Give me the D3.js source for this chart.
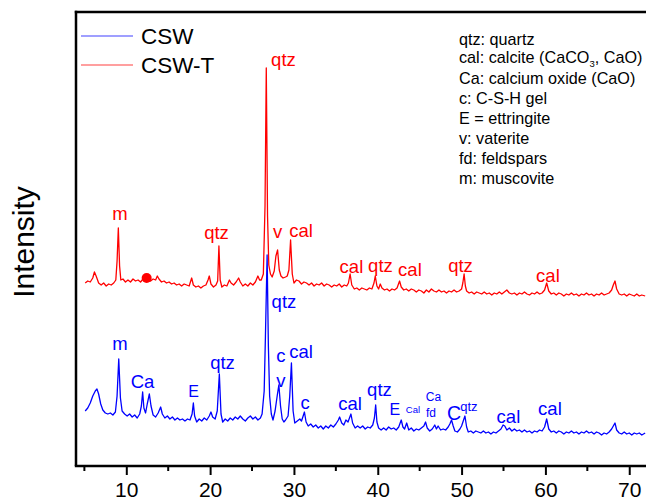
<!DOCTYPE html>
<html>
<head>
<meta charset="utf-8">
<script src="https://cdn.jsdelivr.net/npm/d3@7"></script>
<style>
  html, body { margin: 0; padding: 0; background: #fff; }
  svg { display: block; font-family: "Liberation Sans", Arial, sans-serif; }
</style>
</head>
<body>
<svg id="chart" width="646" height="500"></svg>
<script>
// XRD patterns, 2θ (degrees) vs intensity (a.u.), two samples stacked.
const csw = [
  [5.1,55],[5.4,58],[5.7,63],[6.0,70],[6.3,75],[6.5,77],[6.7,72],[6.95,62],[7.2,56],[7.5,53],
  [7.8,52],[8.1,53],[8.4,51],[8.7,54],[8.9,70],[9.1,107],[9.3,68],[9.5,55],[9.8,52],[10.1,50],
  [10.4,52],[10.7,49],[11.0,51],[11.3,48],[11.6,52],[11.8,60],[11.95,74],[12.1,58],[12.3,53],[12.5,62],
  [12.75,72],[12.95,60],[13.2,51],[13.5,49],[13.8,53],[14.1,59],[14.3,52],[14.6,48],[14.9,50],[15.2,47],
  [15.5,49],[15.8,46],[16.1,48],[16.4,46],[16.7,47],[17.0,45],[17.3,47],[17.6,46],[17.85,52],[18.0,63],
  [18.15,50],[18.4,44],[18.7,47],[19.0,45],[19.3,48],[19.6,46],[19.9,50],[20.1,54],[20.3,49],[20.6,47],
  [20.85,55],[21.1,92],[21.3,52],[21.5,44],[21.8,47],[22.1,45],[22.4,48],[22.7,46],[23.0,49],[23.3,47],
  [23.6,50],[23.9,47],[24.2,45],[24.5,48],[24.8,50],[25.1,47],[25.4,49],[25.7,46],[26.0,48],[26.2,52],
  [26.45,75],[26.6,130],[26.8,211],[26.95,120],[27.1,70],[27.3,52],[27.5,46],[27.75,55],[28.0,70],[28.2,81],
  [28.4,60],[28.6,47],[28.8,44],[29.0,46],[29.3,50],[29.5,70],[29.7,103],[29.9,55],[30.1,43],[30.4,45],
  [30.7,47],[30.9,45],[31.1,50],[31.25,54],[31.45,44],[31.7,40],[32.0,42],[32.3,39],[32.6,41],[32.9,38],
  [33.2,40],[33.5,37],[33.8,40],[34.1,38],[34.4,41],[34.7,39],[35.0,42],[35.3,46],[35.45,49],[35.7,43],
  [35.95,41],[36.2,46],[36.45,44],[36.8,52],[37.0,43],[37.3,38],[37.6,40],[37.9,38],[38.2,40],[38.5,37],
  [38.8,39],[39.1,38],[39.4,41],[39.6,48],[39.75,61],[39.9,44],[40.1,38],[40.4,36],[40.7,38],[41.0,36],
  [41.3,39],[41.6,37],[41.9,38],[42.2,36],[42.5,39],[42.8,46],[43.0,39],[43.2,37],[43.45,43],[43.7,36],
  [44.0,38],[44.3,35],[44.6,37],[44.9,36],[45.2,38],[45.5,40],[45.7,44],[45.9,38],[46.2,35],[46.5,37],
  [46.8,41],[47.0,37],[47.2,40],[47.5,36],[47.8,37],[48.1,36],[48.4,39],[48.6,42],[48.8,46],[49.0,40],
  [49.2,35],[49.5,34],[49.8,37],[50.0,40],[50.2,45],[50.4,50],[50.6,39],[50.8,34],[51.1,35],[51.4,33],
  [51.7,35],[52.0,34],[52.3,33],[52.6,35],[52.9,33],[53.2,34],[53.5,32],[53.8,34],[54.1,33],[54.4,35],
  [54.7,37],[54.95,41],[55.15,40],[55.4,36],[55.7,38],[56.0,35],[56.3,37],[56.6,35],[56.9,36],[57.2,34],
  [57.5,36],[57.8,34],[58.1,35],[58.4,33],[58.7,35],[59.0,34],[59.3,36],[59.6,35],[59.9,39],[60.15,47],
  [60.4,37],[60.7,34],[61.0,35],[61.3,33],[61.6,35],[61.9,34],[62.2,32],[62.5,34],[62.8,33],[63.1,35],
  [63.4,33],[63.7,34],[64.0,32],[64.3,34],[64.6,33],[64.9,35],[65.2,33],[65.5,34],[65.8,32],[66.1,34],
  [66.4,33],[66.7,31],[67.0,33],[67.3,32],[67.6,34],[67.9,37],[68.1,40],[68.3,43],[68.5,36],[68.8,33],
  [69.1,32],[69.4,34],[69.7,32],[70.0,33],[70.3,31],[70.6,33],[70.9,32],[71.2,33],[71.5,31],[71.9,33]
];

const cswT = [
  [5.1,183],[5.4,185],[5.7,184],[6.0,188],[6.2,194],[6.4,190],[6.7,183],[7.0,181],[7.3,183],[7.6,180],
  [7.9,182],[8.2,181],[8.5,183],[8.75,186],[8.9,205],[9.05,238],[9.2,200],[9.35,186],[9.6,187],[9.9,184],
  [10.2,186],[10.5,184],[10.8,187],[11.1,185],[11.4,186],[11.7,184],[12.0,187],[12.3,186],[12.6,188],[12.9,185],
  [13.2,187],[13.5,186],[13.7,190],[13.9,187],[14.2,184],[14.5,185],[14.8,183],[15.1,184],[15.4,182],[15.7,183],
  [16.0,181],[16.3,182],[16.6,180],[16.9,182],[17.2,181],[17.5,180],[17.8,188],[18.0,181],[18.3,179],[18.6,180],
  [18.9,178],[19.2,180],[19.5,181],[19.75,186],[19.9,190],[20.1,182],[20.4,179],[20.7,181],[20.9,185],[21.05,220],
  [21.2,186],[21.4,179],[21.7,181],[22.0,180],[22.3,186],[22.5,183],[22.8,181],[23.1,184],[23.4,188],[23.6,184],
  [23.9,180],[24.2,182],[24.5,180],[24.8,183],[25.1,181],[25.4,184],[25.7,190],[25.9,186],[26.1,186],[26.35,192],
  [26.55,260],[26.7,398],[26.85,250],[27.0,201],[27.2,192],[27.4,189],[27.65,195],[27.85,210],[28.05,216],[28.25,196],
  [28.45,190],[28.7,188],[29.0,189],[29.2,190],[29.4,196],[29.6,226],[29.8,192],[30.0,183],[30.3,186],[30.6,185],
  [30.9,182],[31.2,184],[31.5,183],[31.8,181],[32.1,183],[32.4,180],[32.7,182],[33.0,181],[33.3,183],[33.6,180],
  [33.9,182],[34.2,181],[34.5,179],[34.8,181],[35.1,180],[35.4,182],[35.7,179],[36.0,181],[36.3,180],[36.5,183],
  [36.7,192],[36.9,181],[37.2,177],[37.5,178],[37.8,176],[38.1,178],[38.4,177],[38.7,176],[39.0,178],[39.3,177],
  [39.55,183],[39.7,190],[39.9,180],[40.1,177],[40.3,182],[40.5,178],[40.8,176],[41.1,177],[41.4,175],[41.7,177],
  [42.0,176],[42.3,178],[42.6,185],[42.8,179],[43.1,176],[43.4,177],[43.7,175],[44.0,177],[44.3,176],[44.6,174],
  [44.9,176],[45.2,175],[45.5,173],[45.8,176],[46.1,174],[46.4,177],[46.7,175],[47.0,174],[47.3,176],[47.6,174],
  [47.9,175],[48.2,173],[48.5,175],[48.8,174],[49.1,176],[49.4,174],[49.7,175],[50.0,177],[50.15,183],[50.3,192],
  [50.45,180],[50.6,175],[50.9,173],[51.2,174],[51.5,172],[51.8,174],[52.1,173],[52.4,172],[52.7,174],[53.0,172],
  [53.3,173],[53.6,171],[53.9,173],[54.2,172],[54.5,174],[54.8,172],[55.1,174],[55.4,176],[55.7,173],[56.0,172],
  [56.3,173],[56.6,171],[56.9,173],[57.2,172],[57.5,174],[57.8,172],[58.1,171],[58.4,173],[58.7,172],[59.0,174],
  [59.3,172],[59.6,173],[59.9,176],[60.15,183],[60.4,175],[60.7,172],[61.0,173],[61.3,171],[61.6,173],[61.9,172],
  [62.2,170],[62.5,172],[62.8,171],[63.1,173],[63.4,171],[63.7,172],[64.0,170],[64.3,172],[64.6,171],[64.9,173],
  [65.2,171],[65.5,172],[65.8,170],[66.1,172],[66.4,171],[66.7,173],[67.0,171],[67.3,172],[67.6,173],[67.9,176],
  [68.1,181],[68.3,185],[68.5,177],[68.8,172],[69.1,171],[69.4,172],[69.7,170],[70.0,172],[70.3,171],[70.6,170],
  [70.9,172],[71.2,170],[71.5,171],[71.9,170]
];

// filled marker on the CSW-T trace
const cswTMarkers = [[12.43, 188]];

// phase labels: [text, 2θ, intensity at baseline of text, font key]
const cswTLabels = [
  ["m", 9.25, 246, "main"], ["qtz", 20.76, 227, "main"], ["qtz", 28.75, 400, "main"],
  ["v", 28.04, 228, "main"], ["cal", 30.84, 229, "main"], ["cal", 36.86, 193, "main"],
  ["qtz", 40.32, 194, "main"], ["cal", 43.84, 190, "main"], ["qtz", 49.87, 194, "main"],
  ["cal", 60.3, 184, "main"]
];
const cswLabels = [
  ["qtz", 28.81, 158, "main"], ["m", 9.25, 116, "main"], ["Ca", 11.93, 78, "main"],
  ["E", 18.02, 69, "mid"], ["qtz", 21.48, 97, "main"], ["c", 28.45, 104, "main"],
  ["v", 28.45, 79, "main"], ["cal", 30.84, 108, "main"], ["c", 31.32, 57, "main"],
  ["cal", 36.69, 56, "main"], ["qtz", 40.2, 70, "main"], ["E", 42.05, 51, "mid"],
  ["Cal", 44.2, 53, "tiny"], ["Ca", 46.65, 65, "small"], ["fd", 46.35, 49, "small"],
  ["C", 49.09, 46.5, "big"], ["qtz", 50.88, 55, "sq"], ["cal", 55.59, 43, "main"],
  ["cal", 60.54, 51, "main"]
];

const phaseKey = [
  "qtz: quartz", "cal: calcite (CaCO|3|, CaO)", "Ca: calcium oxide (CaO)", "c: C-S-H gel",
  "E = ettringite", "v: vaterite", "fd: feldspars", "m: muscovite"
];
const seriesNames = ["CSW", "CSW-T"];
const majorTicks = [10, 20, 30, 40, 50, 60, 70];
const minorTicks = [5, 15, 25, 35, 45, 55, 65];

// ---- layout & styles ----
const W = 646, H = 500;
const M = { left: 76, right: 646, top: 12, bottom: 466 };
const BLUE = "#0000ff", RED = "#ff0000";
const fontSizes = { main: 18.5, mid: 16, big: 19.5, small: 12, tiny: 9.5, sq: 13 };

const svg = d3.select("#chart");
const x = d3.scaleLinear().domain([4, 72]).range([M.left, M.right]);
const y = d3.scaleLinear().domain([0, 454]).range([M.bottom, M.top]);

const line = d3.line().x(d => x(d[0])).y(d => y(d[1]));

// traces
svg.append("path").datum(csw).attr("d", line)
  .attr("fill", "none").attr("stroke", BLUE).attr("stroke-width", 1.3).attr("stroke-linejoin", "round");
svg.append("path").datum(cswT).attr("d", line)
  .attr("fill", "none").attr("stroke", RED).attr("stroke-width", 1.3).attr("stroke-linejoin", "round");

svg.selectAll("circle.mark").data(cswTMarkers).join("circle")
  .attr("class", "mark").attr("cx", d => x(d[0])).attr("cy", d => y(d[1])).attr("r", 5).attr("fill", RED);

// phase labels
function drawLabels(data, color) {
  svg.append("g").selectAll("text").data(data).join("text")
    .attr("x", d => x(d[1])).attr("y", d => y(d[2]))
    .attr("text-anchor", "middle")
    .attr("font-size", d => fontSizes[d[3]])
    .attr("fill", color)
    .text(d => d[0]);
}
drawLabels(cswTLabels, RED);
drawLabels(cswLabels, BLUE);

// frame: left and top edges
svg.append("line").attr("x1", M.left).attr("x2", M.left).attr("y1", M.top - 1.2).attr("y2", M.bottom)
  .attr("stroke", "#000").attr("stroke-width", 2.5);
svg.append("line").attr("x1", M.left - 1.2).attr("x2", W + 2).attr("y1", M.top).attr("y2", M.top)
  .attr("stroke", "#000").attr("stroke-width", 2.5);

// bottom axis
const gx = svg.append("g").attr("transform", `translate(0,${M.bottom})`);
gx.call(d3.axisBottom(x).tickValues(majorTicks).tickSize(9).tickSizeOuter(0).tickPadding(7)
  .tickFormat(d3.format("d")));
gx.select(".domain").attr("stroke-width", 2.5).attr("d", `M${M.left - 1.2},0H${W + 2}`);
gx.selectAll(".tick line").attr("stroke-width", 2);
gx.selectAll(".tick text").attr("font-size", 21).attr("font-family", "Liberation Sans, Arial, sans-serif")
  .attr("fill", "#000");
const gm = svg.append("g").attr("transform", `translate(0,${M.bottom})`);
gm.selectAll("line").data(minorTicks).join("line")
  .attr("x1", d => x(d)).attr("x2", d => x(d)).attr("y1", 0).attr("y2", 5)
  .attr("stroke", "#000").attr("stroke-width", 2);

// y-axis title
svg.append("text").attr("transform", "translate(34,242) rotate(-90)")
  .attr("text-anchor", "middle").attr("font-size", 30).attr("fill", "#000").text("Intensity");

// legend
const legend = svg.append("g");
[BLUE, RED].forEach((c, i) => {
  const ly = 36 + i * 29;
  legend.append("line").attr("x1", 81).attr("x2", 133).attr("y1", ly).attr("y2", ly)
    .attr("stroke", c).attr("stroke-width", 1.2).attr("opacity", 0.75);
  legend.append("text").attr("x", 141).attr("y", ly + 8).attr("font-size", 22.5).attr("fill", "#000")
    .text(seriesNames[i]);
});

// phase key
const keyY = [45, 63, 84, 104, 124, 144, 164, 184];
const key = svg.append("g");
phaseKey.forEach((s, i) => {
  const t = key.append("text").attr("x", 459).attr("y", keyY[i]).attr("font-size", 16.2).attr("fill", "#000");
  const parts = s.split("|");
  t.append("tspan").text(parts[0]);
  if (parts.length > 1) {
    t.append("tspan").attr("font-size", 9.5).attr("dy", 4).text(parts[1]);
    t.append("tspan").attr("dy", -4).text(parts[2]);
  }
});
</script>
</body>
</html>
